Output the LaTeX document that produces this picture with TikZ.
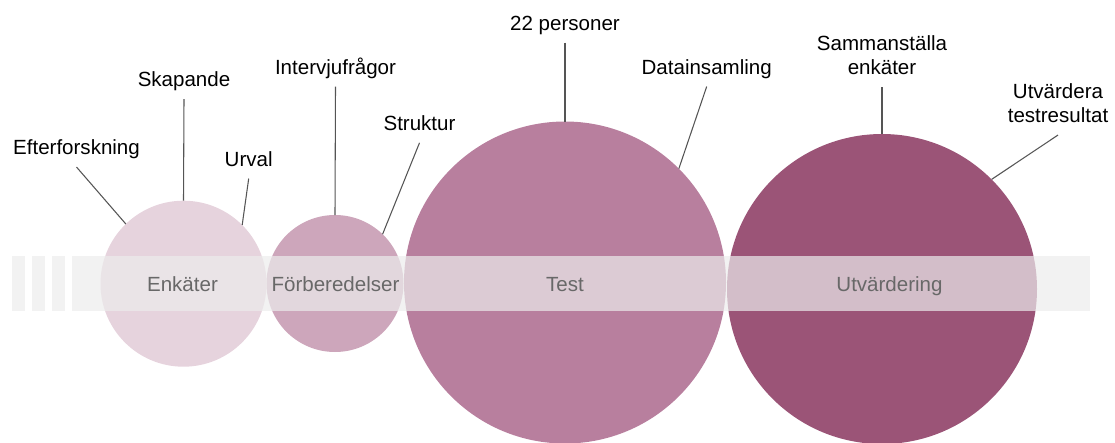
\documentclass[tikz,border=0pt]{standalone}
\usepackage{fontspec}
\setmainfont{Liberation Sans}
\definecolor{cEnk}{HTML}{E6D3DD}
\definecolor{cForb}{HTML}{CDA6BB}
\definecolor{cTest}{HTML}{B87F9E}
\definecolor{cUtv}{HTML}{9B5477}
\definecolor{cBand}{HTML}{ECECEC}
\definecolor{cPhaseText}{HTML}{686868}
\definecolor{cLine}{HTML}{555555}
\begin{document}
\begin{tikzpicture}[x=0.75pt,y=-0.75pt,
  phase/.style={circle, draw=none, inner sep=0pt, outer sep=0pt},
  band/.style={fill=cBand, fill opacity=0.7},
  phasetext/.style={text=cPhaseText, inner sep=0pt, anchor=base, font=\fontsize{15.4pt}{18pt}\selectfont},
  lab/.style={text=black, inner sep=0pt, font=\fontsize{15.4pt}{18pt}\selectfont},
  conn/.style={draw=cLine, line width=0.8pt}
]
\useasboundingbox (0,0) rectangle (1115,443);

% circles
\node[phase, fill=cEnk,  minimum size=124.5pt] (enk)  at (183.5,283.7) {};
\node[phase, fill=cForb, minimum size=102.75pt] (forb) at (335,283.5) {};
\node[phase, fill=cTest, minimum size=241.5pt] (test) at (565,282.5) {};
\node[phase, fill=cUtv,  minimum size=232.5pt] (utv)  at (882,289) {};

% band
\fill[band] (12,256) rectangle (25,311);
\fill[band] (32,256) rectangle (45,311);
\fill[band] (52,256) rectangle (65,311);
\fill[band] (72,256) rectangle (1090,311);

% phase texts
\node[phasetext] (tEnk)  at (182.5,291.7) {Enkäter};
\node[phasetext] (tForb) at (335.5,291.7) {Förberedelser};
\node[phasetext] (tTest) at (565,291.7) {Test};
\node[phasetext] (tUtv)  at (889.5,291.7) {Utvärdering};

% labels
\node[lab, anchor=base] (efter) at (76.5,154.5) {Efterforskning};
\node[lab, anchor=base] (skap)  at (184,86.7) {Skapande};
\node[lab, anchor=base] (urval) at (248.7,166) {Urval};
\node[lab, anchor=base] (intv)  at (335.5,74) {Intervjufrågor};
\node[lab, anchor=base] (strk)  at (419.5,130.3) {Struktur};
\node[lab, anchor=base] (pers)  at (565,30) {22 personer};
\node[lab, anchor=base] (data)  at (706.7,74) {Datainsamling};
\node[lab, anchor=center, align=center] (samm) at (882,54.7) {Sammanställa\\enkäter};
\node[lab, anchor=center, align=center] (utvt) at (1058,102.7) {Utvärdera\\testresultat};

% connectors
\draw[conn] ([yshift=-9.4pt]efter.base) -- (enk.134);
\draw[conn] ([yshift=-9.4pt]skap.base) -- (enk.90);
\draw[conn] ([yshift=-9.4pt]urval.base) -- (enk.45);
\draw[conn] ([yshift=-9.4pt]intv.base) -- (forb.90);
\draw[conn] ([yshift=-9.4pt]strk.base) -- (forb.46);
\draw[conn] ([yshift=-9.4pt]pers.base) -- (test.90);
\draw[conn] ([yshift=-9.4pt]data.base) -- (test.45);
\draw[conn] ([yshift=-9.4pt]samm.south) -- (utv.90);
\draw[conn] ([yshift=-9.4pt]utvt.south) -- (utv.45);
\end{tikzpicture}
\end{document}
